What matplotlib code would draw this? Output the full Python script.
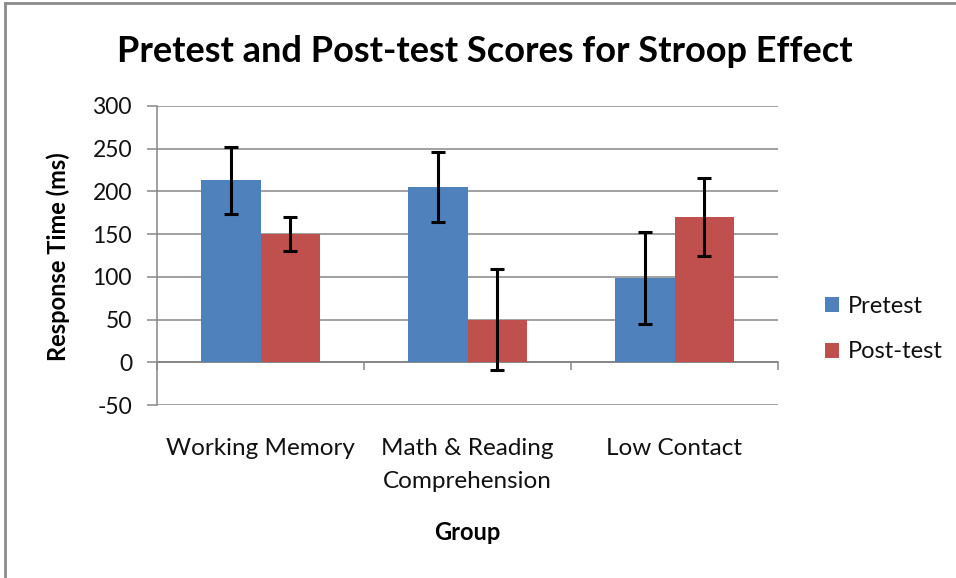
import matplotlib
matplotlib.use("Agg")
import matplotlib.pyplot as plt
import numpy as np

plt.rcParams['font.family'] = ['Lato', 'DejaVu Sans']

categories = ["Working Memory", "Math & Reading\nComprehension", "Low Contact"]
series_names = ["Pretest", "Post-test"]
pretest = [213, 205, 99]
pretest_err = [39, 41, 54]
posttest = [150, 50, 170]
posttest_err = [20, 59, 46]
yticks = [-50, 0, 50, 100, 150, 200, 250, 300]

colors = ["#4F81BD", "#C0504D"]
grid_c = "#878787"

fig = plt.figure(figsize=(9.56, 5.78), dpi=100)
ax = fig.add_axes([157/956, 1-405/578, (778-157)/956, (405-106)/578])

x = np.arange(len(categories))
w = 1/3.5
ax.bar(x - w/2, pretest, w, color=colors[0], label=series_names[0], zorder=2)
ax.bar(x + w/2, posttest, w, color=colors[1], label=series_names[1], zorder=2)
ekw = dict(fmt='none', ecolor='black', elinewidth=2.2, capsize=5, capthick=2.2, zorder=3)
ax.errorbar(x - w/2, pretest, yerr=pretest_err, **ekw)
ax.errorbar(x + w/2, posttest, yerr=posttest_err, **ekw)

ax.set_xlim(-0.5, len(categories)-0.5)
ax.set_ylim(yticks[0], yticks[-1])
ax.set_yticks(yticks)
ax.set_yticklabels([str(v) for v in yticks])
ax.yaxis.grid(True, color=grid_c, linewidth=1.1, zorder=0)
ax.set_axisbelow(True)
ax.axhline(0, color=grid_c, linewidth=1.1, zorder=1)

for s in ['top', 'right', 'bottom']:
    ax.spines[s].set_visible(False)
ax.spines['left'].set_color(grid_c)
ax.spines['left'].set_linewidth(1.1)
ax.tick_params(axis='y', direction='out', length=7, color=grid_c, width=1.1,
               labelsize=16.5, pad=11, labelcolor='#111111')

ax.set_xticks(x)
ax.set_xticklabels(categories, linespacing=1.67)
ax.tick_params(axis='x', length=0, labelsize=17.5, pad=24, labelcolor='#111111')

sec = ax.secondary_xaxis(50/350)
sec.set_xticks(np.arange(len(categories)+1) - 0.5)
sec.set_xticklabels([])
sec.tick_params(direction='out', length=6, color=grid_c, width=1.1)
sec.spines['bottom'].set_color(grid_c)
sec.spines['bottom'].set_linewidth(1.1)

fig.text(485/956, 1-51/578, "Pretest and Post-test Scores for Stroop Effect",
         ha='center', va='center', fontsize=26, fontweight='bold')
fig.text(58/956, 1-257/578, "Response Time (ms)", rotation=90, ha='center', va='center',
         fontsize=17, fontweight='bold')
fig.text(467/956, 1-533/578, "Group", ha='center', va='center', fontsize=17, fontweight='bold')

leg = fig.legend(loc='center left', bbox_to_anchor=(804/956, 1-329/578), frameon=False,
                 fontsize=17, handlelength=0.6, handleheight=0.6, handletextpad=0.35,
                 labelspacing=1.05)
for t in leg.get_texts():
    t.set_color('#111111')

# outer frame (left and top edges visible)
fig.add_artist(plt.Line2D([5/956, 5/956], [0, 1-3/578], transform=fig.transFigure,
                          color="#8c8c8c", linewidth=2))
fig.add_artist(plt.Line2D([5/956, 1], [1-3/578, 1-3/578], transform=fig.transFigure,
                          color="#8c8c8c", linewidth=2))

fig.savefig("out.png", dpi=100)
